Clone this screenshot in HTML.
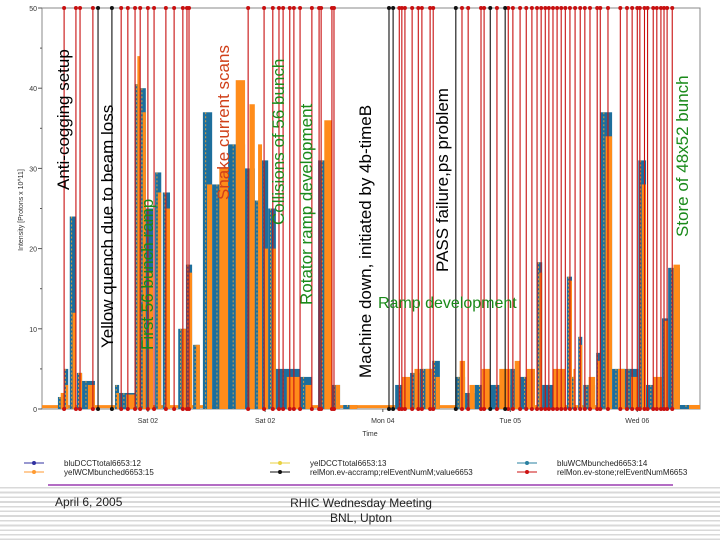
<!DOCTYPE html>
<html><head><meta charset="utf-8">
<style>
html,body{margin:0;padding:0;}
body{width:720px;height:540px;position:relative;overflow:hidden;background:#fff;font-family:"Liberation Sans",sans-serif;}
#stripes{position:absolute;left:0;top:484px;width:720px;height:56px;background:repeating-linear-gradient(180deg,#fff 0px,#fff 3px,#d9d9d9 3px,#d9d9d9 4.7px);}
svg{position:absolute;left:0;top:0;}
</style></head>
<body>
<div id="stripes"></div>
<svg id="chart" width="720" height="540"></svg>
<script>
// ---- data ----
const yTicks=[0,10,20,30,40,50];
const xTickHours=[20.6,43.4,66.3,91.1,115.8];
const xTickLabels=["Sat 02","Sat 02","Mon 04","Tue 05","Wed 06"];
const spikeStart=[3.1,4.3,5.4,6.8,7.8,14.2,15.0,18.1,19.1,20.2,22.0,23.5,26.5,28.0,29.4,31.3,33.1,36.2,39.5,41.4,42.8,44.0,45.5,50.2,53.7,56.4,58.6,68.7,71.6,73.5,75.9,80.4,82.3,84.2,87.2,91.1,93.0,96.3,97.3,102.1,103.1,104.3,105.3,107.8,108.6,110.9,113.4,116.0,117.5,120.6,121.8,124.1];
const spikeEnd=[4.3,5.1,6.6,7.8,10.3,15.0,18.1,19.1,20.2,21.6,23.2,24.9,28.0,29.2,30.7,33.1,36.2,39.5,41.4,42.8,44.0,45.5,50.2,52.5,56.4,57.98,61.3,71.6,73.5,75.9,77.4,82.3,84.2,87.2,91.1,93.0,95.9,97.3,101.8,103.1,103.7,105.1,107.6,108.6,110.9,113.4,116.0,117.5,120.6,121.8,124.1,128.0];
const blueVal=[1.5,5,24,4.5,3.5,3,2,40.5,40,25,29.5,27,10,18,8,37,28,33,30,26,31,25,5,4,31,3,0.5,3,4.5,5,6,4,2,3,3,5,4,18.3,3,16.5,4,9,3,7,37,5,5,31,3,11.3,17.6,0.5];
const orangeVal=[2,3,12,4.5,3,2,1.8,44,37,17,27,25,10,17,8,28,30,41,38,33,20,20,4,3,36,3,0.5,4,5,5,4,6,3,5,5,6,5,17,5,16,5,8,4,6,34,5,4,28,4,11,18,0.5];
const redEvents=[4.3,6.6,7.4,9.9,15.4,16.7,18.1,19.1,20.6,21.8,24.1,25.7,27.4,28.2,28.6,40.1,43.2,44.9,46.1,46.9,48.2,49.0,50.2,52.5,53.9,54.3,56.4,56.8,69.5,70.0,70.6,72.0,73.2,73.9,75.5,76.1,81.7,82.9,85.4,86.0,88.5,90.7,91.6,93.0,94.2,95.3,96.3,97.1,97.9,98.6,99.4,100.2,101.0,101.8,102.7,103.7,104.7,105.6,106.6,108.0,108.6,110.1,112.5,113.8,114.8,115.8,116.3,117.2,117.8,118.9,119.6,120.4,121.0,121.6,122.6];
const blackEvents=[10.9,13.6,67.5,68.3,80.5,87.2,90.1];

// ---- scales ----
const X0=42,X1=700,Y0=409,Y1=8,TMAX=128;
const xs=t=>X0+t*(X1-X0)/TMAX;
const ys=v=>Y0-v*(Y0-Y1)/50;
const NS="http://www.w3.org/2000/svg";
const svg=document.getElementById('chart');
function mk(tag,attrs,parent){const e=document.createElementNS(NS,tag);for(const k in attrs)e.setAttribute(k,attrs[k]);(parent||svg).appendChild(e);return e;}

let fr=mk('rect',{x:X0,y:Y1,width:X1-X0,height:Y0-Y1,fill:'#fff',stroke:'#888','stroke-width':1});



yTicks.forEach(v=>{
  const l=mk('line',{x1:X0-4,x2:X0,y1:ys(v),y2:ys(v),stroke:'#555'});
  
  
  const t=mk('text',{x:X0-5,y:ys(v)+3,'text-anchor':'end','font-size':7,fill:'#333'});
  t.textContent=v;
  
  
  if(v<50){const m=mk('line',{x1:X0-2,x2:X0,y1:ys(v+5),y2:ys(v+5),stroke:'#555'});
  
  }
});
xTickHours.forEach((h,i)=>{
  const t=mk('text',{x:xs(h),y:423,'text-anchor':'middle','font-size':7,fill:'#333'});
  t.textContent=xTickLabels[i];
  
  
  const l=mk('line',{x1:xs(h),x2:xs(h),y1:Y0,y2:Y0+3,stroke:'#555'});
  
  
});
let xt=mk('text',{x:370,y:436,'text-anchor':'middle','font-size':7,fill:'#333'});xt.textContent='Time';


let yt=mk('text',{x:0,y:0,transform:'translate(23,210) rotate(-90)','text-anchor':'middle','font-size':7,fill:'#333'});yt.textContent='Intensity [Protons x 10^11]';



let bl=mk('line',{x1:X0,x2:X1,y1:ys(0.3),y2:ys(0.3),stroke:'#ff8c1a','stroke-width':3});



spikeStart.forEach((s,i)=>{
  const xa=xs(s),xb=xs(spikeEnd[i]),w=Math.max(1,xb-xa);
  const b=mk('rect',{x:xa,y:ys(blueVal[i]),width:w,height:Y0-ys(blueVal[i]),fill:'#1d6e9c'});
  
  
  const ow=w*0.55;
  const o=mk('rect',{x:xa+w-ow,y:ys(orangeVal[i]),width:ow,height:Y0-ys(orangeVal[i]),fill:'#ff8c1a'});
  
  
  const d=mk('line',{x1:xa+w*0.3,x2:xa+w*0.3,y1:ys(blueVal[i]),y2:Y0,stroke:'#d8a040','stroke-width':1,'stroke-dasharray':'2 2'});
  
  
});

function ev(h,col,name){
  const x=xs(h);
  const l=mk('line',{x1:x,x2:x,y1:Y1,y2:Y0,stroke:col,'stroke-width':1.1});
  
  
  [Y1,Y0].forEach(y=>{const c=mk('circle',{cx:x,cy:y,r:2,fill:col});
  
  });
}
redEvents.forEach(h=>ev(h,'#c81010','stone-event-line'));
blackEvents.forEach(h=>ev(h,'#111','accramp-event-line'));

const ann=[["Anti-cogging setup",63,190,'#000'],["Yellow quench due to beam loss",107,348,'#000'],["First 56 bunch ramp",147,350,'#1a8a1a'],["Snake current scans",223,200,'#d0401a'],["Collisions of 56 bunch",278,225,'#1a8a1a'],["Rotator ramp development",306,305,'#1a8a1a'],["Machine down, initiated by 4b-timeB",365,378,'#000'],["PASS failure,ps problem",442,272,'#000'],["Store of 48x52 bunch",682,237,'#1a8a1a']];
ann.forEach(a=>{
  const t=mk('text',{x:0,y:0,transform:`translate(${a[1]+6},${a[2]}) rotate(-90)`,'font-size':17,fill:a[3]});
  t.textContent=a[0];
  
  
});
let rd=mk('text',{x:378,y:308,'font-size':16,fill:'#1a8a1a'});rd.textContent='Ramp development';



const legNames=["bluDCCTtotal6653:12","yelWCMbunched6653:15","yelDCCTtotal6653:13","relMon.ev-accramp;relEventNumM;value6653","bluWCMbunched6653:14","relMon.ev-stone;relEventNumM6653"];
const legCols=['#3030a0','#ff9a30','#e8d040','#111','#2a80a0','#cc1111'];
const legX=[24,24,270,270,517,517],legY=[465,474,465,474,465,474];
legNames.forEach((n,i)=>{
  const g=mk('g',{});
  
  
  mk('line',{x1:legX[i],x2:legX[i]+20,y1:legY[i]-2,y2:legY[i]-2,stroke:legCols[i],'stroke-width':1},g);
  mk('circle',{cx:legX[i]+10,cy:legY[i]-2,r:2,fill:legCols[i]},g);
  const t=mk('text',{x:legX[i]+40,y:legY[i]+1,'font-size':8,fill:'#222'},g);t.textContent=n;
});
let pl=mk('line',{x1:48,x2:673,y1:485,y2:485,stroke:'#9a3cb0','stroke-width':1.5});


const ft=[["April 6, 2005",55,506,'start'],["RHIC Wednesday Meeting",361,507,'middle'],["BNL, Upton",361,522,'middle']];
ft.forEach(f=>{const t=mk('text',{x:f[1],y:f[2],'text-anchor':f[3],'font-size':12,fill:'#222'});t.textContent=f[0];

});
</script>
</body></html>
